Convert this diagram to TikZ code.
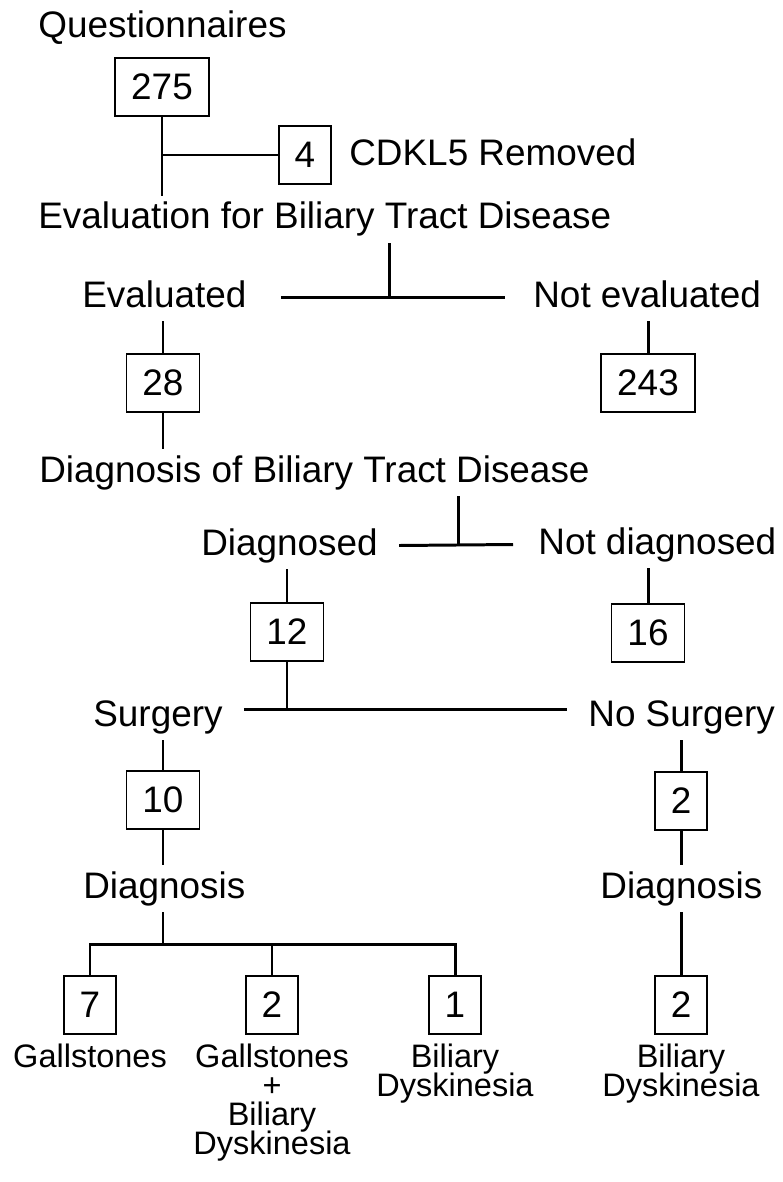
\documentclass[tikz,border=0pt]{standalone}
\usepackage{fontspec}
\setmainfont{Liberation Sans}
\usetikzlibrary{positioning,calc}

\newcommand\resfont{\fontsize{18.5}{16.4}\selectfont\lineskiplimit=-50pt\relax}

\tikzset{
  txt/.style={font=\fontsize{21}{25}\selectfont, inner xsep=0pt, inner ysep=0.12cm,
    text height=0.54cm, text depth=0.16cm},
  num/.style={draw, line width=1.05pt, font=\fontsize{21}{25}\selectfont,
    inner xsep=0.32cm, inner ysep=0pt, minimum height=1.16cm},
  res/.style={font=\resfont, align=center, inner sep=0pt},
  link/.style={line width=1.7pt},
}

\begin{document}
\begin{tikzpicture}[x=0.02cm, y=-0.02cm]
  \useasboundingbox (0,0) rectangle (783,1182);

  % questionnaires
  \node[txt, anchor=base west] (quest) at (38,38) {Questionnaires};
  \node[num] (n275) at (162,87) {275};
  \node[num] (n4) at (305,155) {4};
  \node[txt, anchor=base west] (cdkl) at (349,166) {CDKL5 Removed};
  \node[txt, anchor=base west] (evalq) at (38,229) {Evaluation for Biliary Tract Disease};
  \draw[link] (n275) -- (n275 |- evalq.north);
  \draw[link] (n275 |- n4) -- (n4);

  % evaluated or not
  \node[txt, anchor=base west] (evald) at (82,307) {Evaluated};
  \node[txt, anchor=base west] (notevald) at (533,307) {Not evaluated};
  \coordinate (j1) at ($(evald.east)!0.5!(notevald.west)$);
  \draw[link] (evalq.south -| j1) -- (j1);
  \draw[link] ($(evald.east)+(34,0)$) -- ($(notevald.west)+(-28,0)$);
  \node[num] (n28) at (163,383) {28};
  \node[num] (n243) at (648,383) {243};
  \draw[link] (evald.south -| n28) -- (n28);
  \draw[link] (notevald.south -| n243) -- (n243);

  % diagnosed or not
  \node[txt, anchor=base west] (diagq) at (39,482) {Diagnosis of Biliary Tract Disease};
  \draw[link] (n28) -- (n28 |- diagq.north);
  \node[txt, anchor=base west] (diagd) at (201,555) {Diagnosed};
  \node[txt, anchor=base west] (notdiagd) at (538,554) {Not diagnosed};
  \coordinate (j2) at ($(diagd.east)!0.5!(notdiagd.west)$);
  \draw[link] (diagq.south -| j2) -- (j2);
  \draw[link] ($(diagd.east)+(21,0)$) -- ($(notdiagd.west)+(-25,0)$);
  \node[num] (n12) at (287,632) {12};
  \node[num] (n16) at (648,633) {16};
  \draw[link] (diagd.south -| n12) -- (n12);
  \draw[link] (notdiagd.south -| n16) -- (n16);

  % surgery or not
  \node[txt, anchor=base west] (surg) at (93,726) {Surgery};
  \node[txt, anchor=base west] (nosurg) at (588,726) {No Surgery};
  \coordinate (j3) at ($(n12 |- surg.east)+(0,-7.5)$);
  \draw[link] (n12) -- (j3);
  \draw[link] ($(surg.east)+(21,-7.5)$) -- ($(nosurg.west)+(-21,-7.5)$);
  \node[num] (n10) at (163,800) {10};
  \node[num] (n2r) at (681,801) {2};
  \draw[link] (surg.south -| n10) -- (n10);
  \draw[link] (nosurg.south -| n2r) -- (n2r);

  % diagnosis after surgery
  \node[txt, anchor=base west] (diagl) at (83,898) {Diagnosis};
  \node[txt, anchor=base west] (diagr) at (600,898) {Diagnosis};
  \draw[link] (n10) -- (n10 |- diagl.north);
  \draw[link] (n2r) -- (n2r |- diagr.north);
  \coordinate (bus) at ($(n10 |- diagl.south)+(0,32)$);
  \node[num] (n7) at (90,1005) {7};
  \node[num] (n2b) at (272,1005) {2};
  \node[num] (n1) at (455,1005) {1};
  \node[num] (n2d) at (681,1005) {2};
  \draw[link] (diagl.south -| n10) -- (bus);
  \draw[link] (n7) -- (n7 |- bus) -- (n1 |- bus) -- (n1);
  \draw[link] (n2b) -- (n2b |- bus);
  \draw[link] (diagr.south -| n2d) -- (n2d);

  % results
  \node[res, below=0.18cm of n7] (gall) {Gallstones};
  \node[res, below=0.18cm of n2b] (gallbd) {Gallstones\\+\\Biliary\\Dyskinesia};
  \node[res, below=0.18cm of n1] (bd) {Biliary\\Dyskinesia};
  \node[res, below=0.18cm of n2d] (bdr) {Biliary\\Dyskinesia};
\end{tikzpicture}
\end{document}
